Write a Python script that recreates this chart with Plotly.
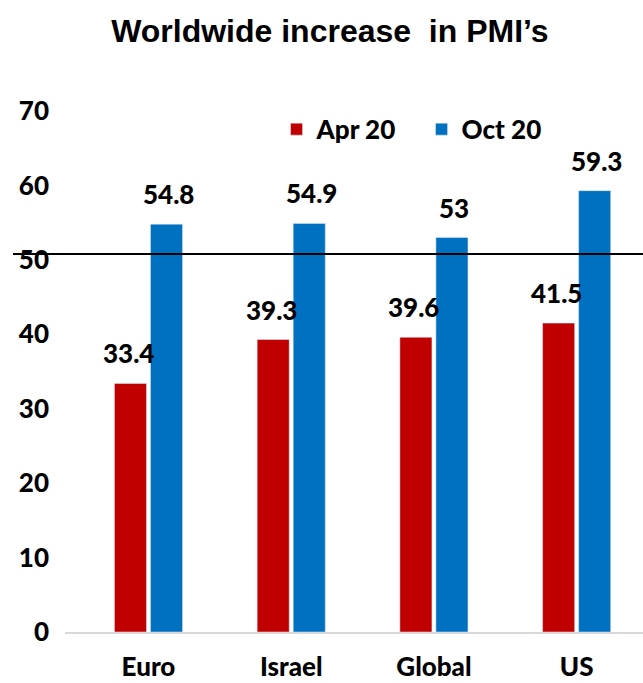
import plotly.graph_objects as go

categories = ["Euro", "Israel", "Global", "US"]
apr20 = [33.4, 39.3, 39.6, 41.5]
oct20 = [54.8, 54.9, 53.0, 59.3]
apr_labels = ["33.4", "39.3", "39.6", "41.5"]
oct_labels = ["54.8", "54.9", "53", "59.3"]
tick_vals = [0, 10, 20, 30, 40, 50, 60, 70]
threshold = 50.8

RED = "#C00000"
BLUE = "#0070C0"
FONT = "Lato"
FS = 26
W = 900

fig = go.Figure()
fig.add_trace(go.Bar(x=categories, y=apr20, name="Apr 20", marker_color=RED))
fig.add_trace(go.Bar(x=categories, y=oct20, name="Oct 20", marker_color=BLUE))

annotations = []
for i, c in enumerate(categories):
    annotations.append(dict(x=c, y=apr20[i], text=apr_labels[i], showarrow=False,
                            xshift=-20, yshift=30, font=dict(family=FONT, size=FS, color="black", weight=W)))
    annotations.append(dict(x=c, y=oct20[i], text=oct_labels[i], showarrow=False,
                            xshift=20, yshift=30, font=dict(family=FONT, size=FS, color="black", weight=W)))

fig.update_layout(
    width=643, height=683,
    margin=dict(l=65, r=0, t=111, b=51, autoexpand=False),
    paper_bgcolor="white", plot_bgcolor="white",
    title=dict(text="<b>Worldwide increase  in PMI’s</b>", x=0.513, xanchor="center", y=0.955, yanchor="middle",
               font=dict(family="Liberation Sans", size=32, color="black")),
    barmode="group", bargap=0.495, bargroupgap=0.11,
    showlegend=True,
    legend=dict(orientation="h", x=0.366, y=0.965, xanchor="left", yanchor="middle",
                font=dict(family=FONT, size=FS, color="black", weight=W),
                bgcolor="rgba(0,0,0,0)", itemwidth=30, traceorder="normal",
                entrywidth=100, entrywidthmode="pixels"),
    xaxis=dict(range=[-0.585, 3.465], showgrid=False, showline=True, linecolor="#d9d9d9", linewidth=2,
               ticks="", ticklabelstandoff=11,
               tickfont=dict(family=FONT, size=FS, color="black", weight=W)),
    yaxis=dict(range=[0, 70], tickvals=tick_vals, showgrid=False, zeroline=False, showline=False,
               ticks="", ticklabelstandoff=15,
               tickfont=dict(family=FONT, size=FS, color="black", weight=W)),
    annotations=annotations,
    shapes=[dict(type="line", xref="paper", yref="y", x0=-0.09, x1=1, y0=threshold, y1=threshold,
                 line=dict(color="black", width=2))],
)

fig.write_html("out.html")
